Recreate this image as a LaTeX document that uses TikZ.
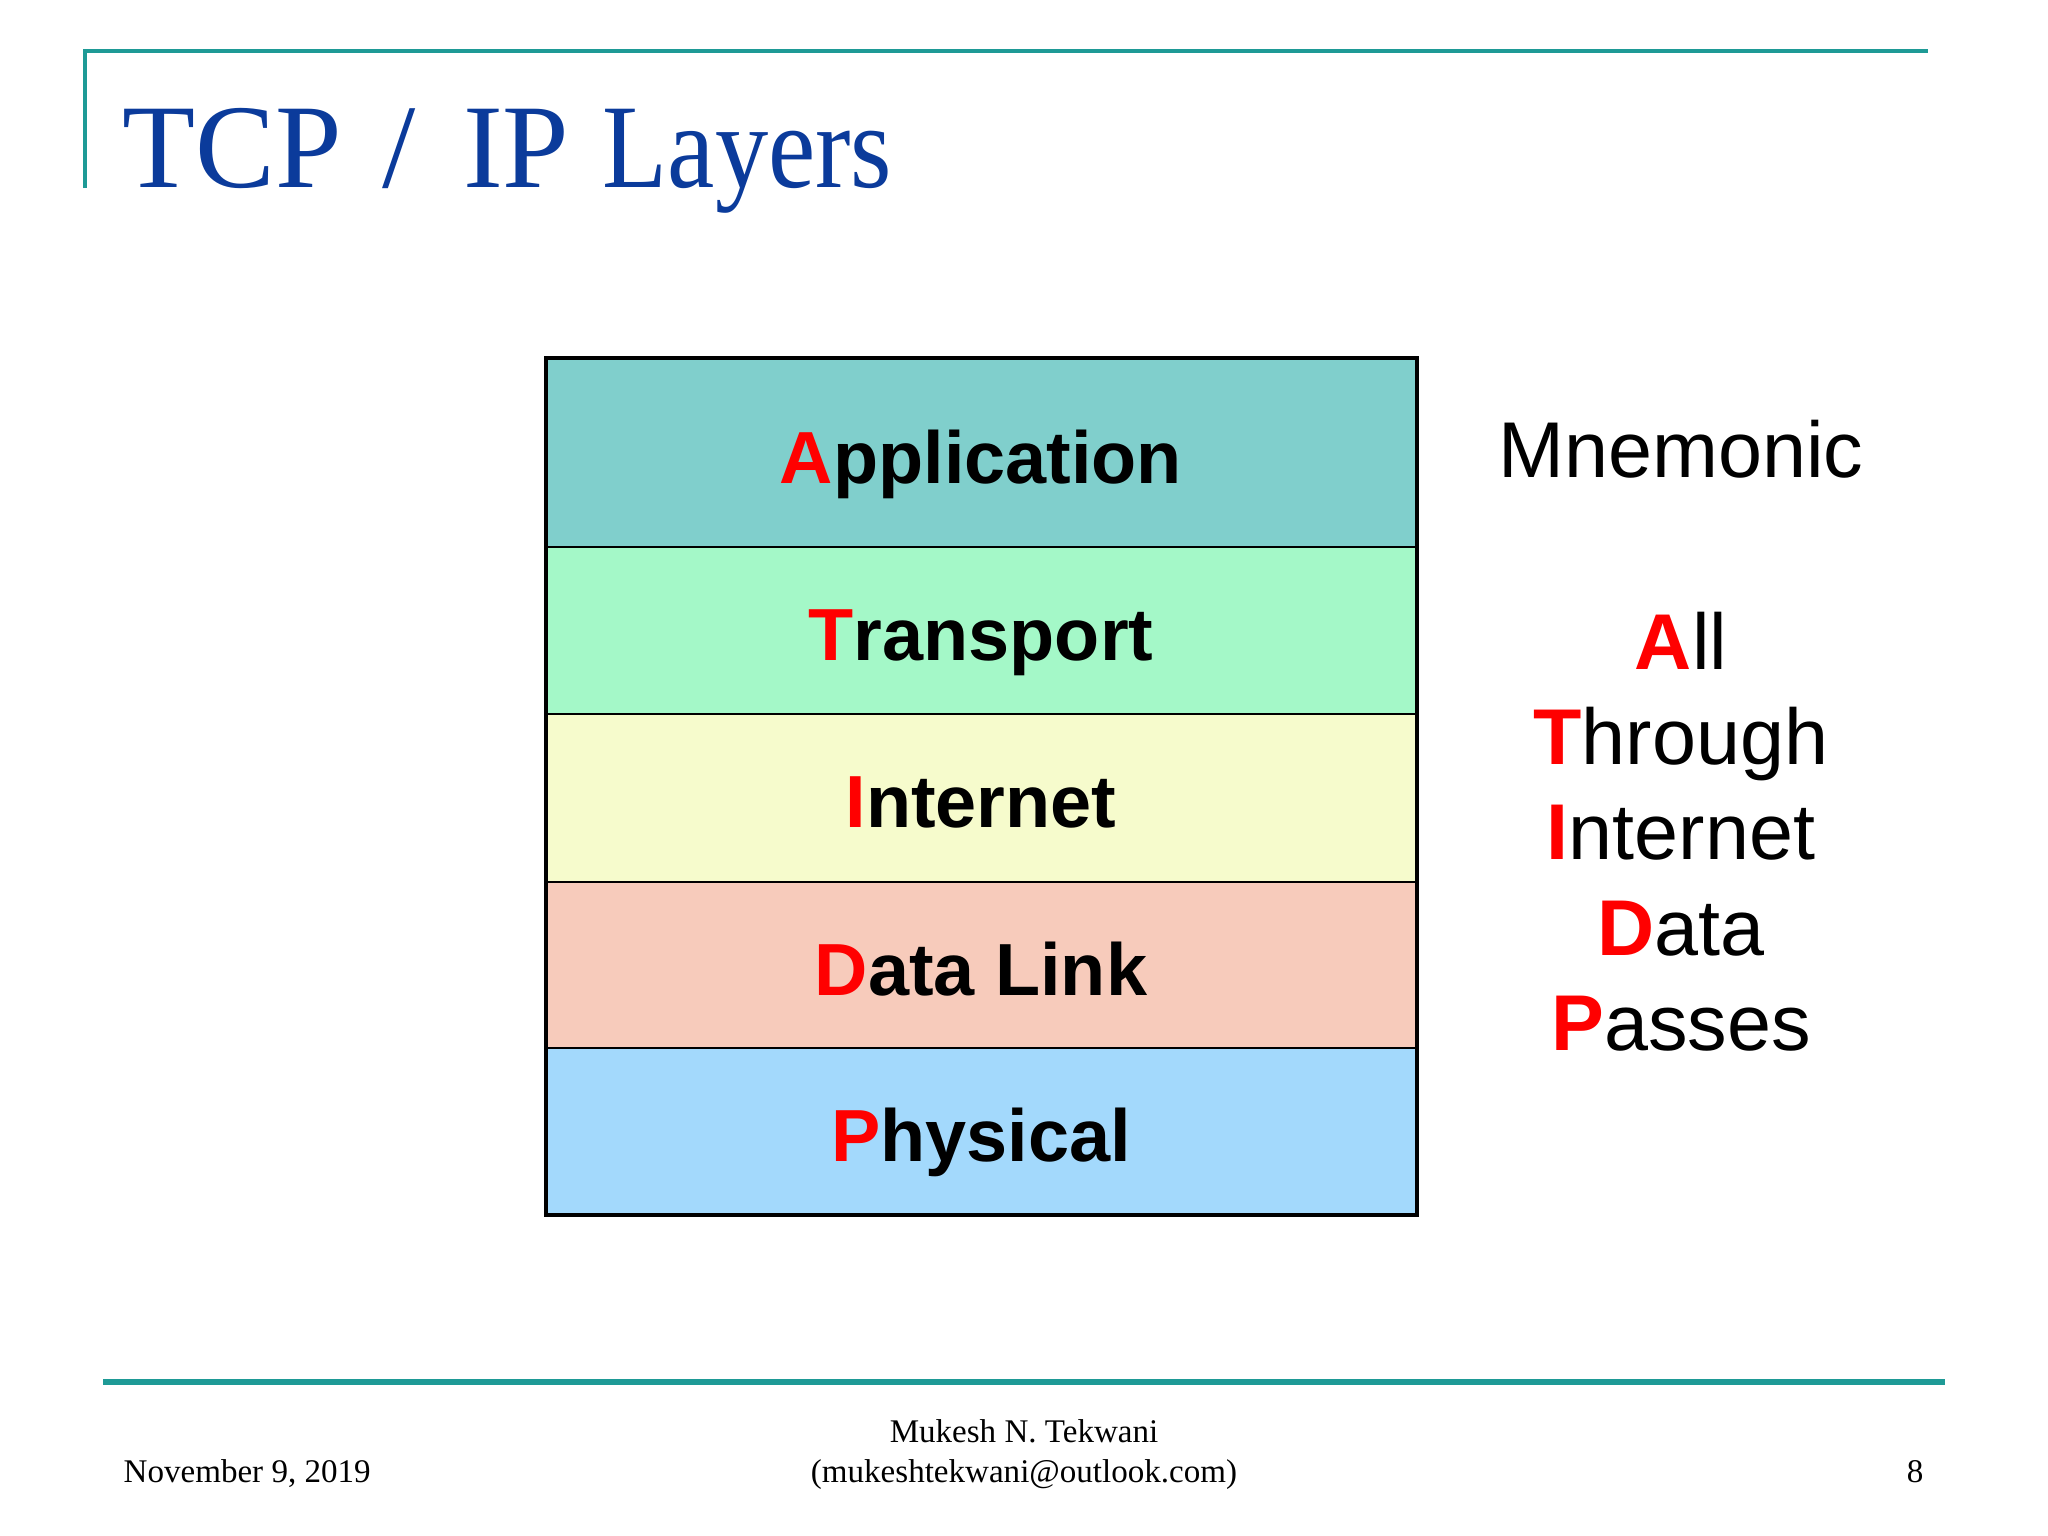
\documentclass[tikz,border=0pt]{standalone}
\usepackage{fontspec}
\setmainfont{Liberation Serif}
\setsansfont{Liberation Sans}
\begin{document}
\begin{tikzpicture}[x=0.01cm,y=-0.01cm,
  tealline/.style={draw=teal1,line width=1.3pt},
  layer/.style={draw=black,line width=0.7pt},
  layertext/.style={anchor=base,font=\sffamily\bfseries\fontsize{21}{24}\selectfont,inner sep=0pt},
  mnem/.style={anchor=base,font=\sffamily\fontsize{22.5}{26}\selectfont,inner sep=0pt},
  foot/.style={font=\fontsize{9.4}{11}\selectfont,inner sep=0pt}]
\definecolor{teal1}{HTML}{1E9A96}
\definecolor{titleblue}{HTML}{0B3B9B}
\definecolor{redl}{HTML}{FF0000}
\definecolor{cApp}{HTML}{80CFCC}
\definecolor{cTra}{HTML}{A4F8C8}
\definecolor{cInt}{HTML}{F6FBCC}
\definecolor{cDat}{HTML}{F7CBBB}
\definecolor{cPhy}{HTML}{A3D9FC}
\newcommand{\rl}[1]{\textcolor{redl}{#1}}
\newcommand{\rlb}[1]{\textcolor{redl}{\bfseries #1}}
\useasboundingbox[fill=white] (0,0) rectangle (2048,1536);
% header rule
\coordinate (h1) at (85,188);
\coordinate (h2) at (85,51);
\coordinate (h3) at (1928,51);
\draw[tealline] (h1) -- (h2) -- (h3);
\node[anchor=base west,inner sep=0pt,text=titleblue,font=\fontsize{34}{40}\selectfont] (title) at (122,187) {TCP\hspace{3pt} /\hspace{5pt} IP\hspace{1pt} \scalebox{0.89}[1]{Layers}};
% footer rule
\coordinate (f1) at (103,1382);
\coordinate (f2) at (1945,1382);
\draw[draw=teal1,line width=1.6pt] (f1) -- (f2);
\node[foot,anchor=base west] (date) at (123,1482) {November 9, 2019};
\node[foot,anchor=base] (auth) at (1024,1442) {Mukesh N. Tekwani};
\node[foot,anchor=base] (mail) at (1024,1482) {(mukeshtekwani@outlook.com)};
\node[foot,anchor=base east] (page) at (1924,1482) {8};
% layers
\path[fill=cApp] (546,358) rectangle (1417,547);
\path[fill=cTra] (546,547) rectangle (1417,714);
\path[fill=cInt] (546,714) rectangle (1417,882);
\path[fill=cDat] (546,882) rectangle (1417,1048);
\path[fill=cPhy] (546,1048) rectangle (1417,1215);
\draw[layer] (546,547) -- (1417,547);
\draw[layer] (546,714) -- (1417,714);
\draw[layer] (546,882) -- (1417,882);
\draw[layer] (546,1048) -- (1417,1048);
\draw[black,line width=1.3pt] (546,358) rectangle (1417,1215);
\node[layertext] (app) at (981,483) {\rl{A}pplication};
\node[layertext] (tra) at (981,660) {\rl{T}ransport};
\node[layertext] (int) at (981,827) {\rl{I}nternet};
\node[layertext] (dat) at (981,995) {\rl{D}ata Link};
\node[layertext] (phy) at (981,1161) {\rl{P}hysical};
% mnemonic
\node[mnem] (mn) at (1681,477) {Mnemonic};
\node[mnem] (m1) at (1681,669) {\rlb{A}ll};
\node[mnem] (m2) at (1681,764) {\rlb{T}hrough};
\node[mnem] (m3) at (1681,859) {\rlb{I}nternet};
\node[mnem] (m4) at (1681,955) {\rlb{D}ata};
\node[mnem] (m5) at (1681,1050) {\rlb{P}asses};
\end{tikzpicture}
\end{document}
